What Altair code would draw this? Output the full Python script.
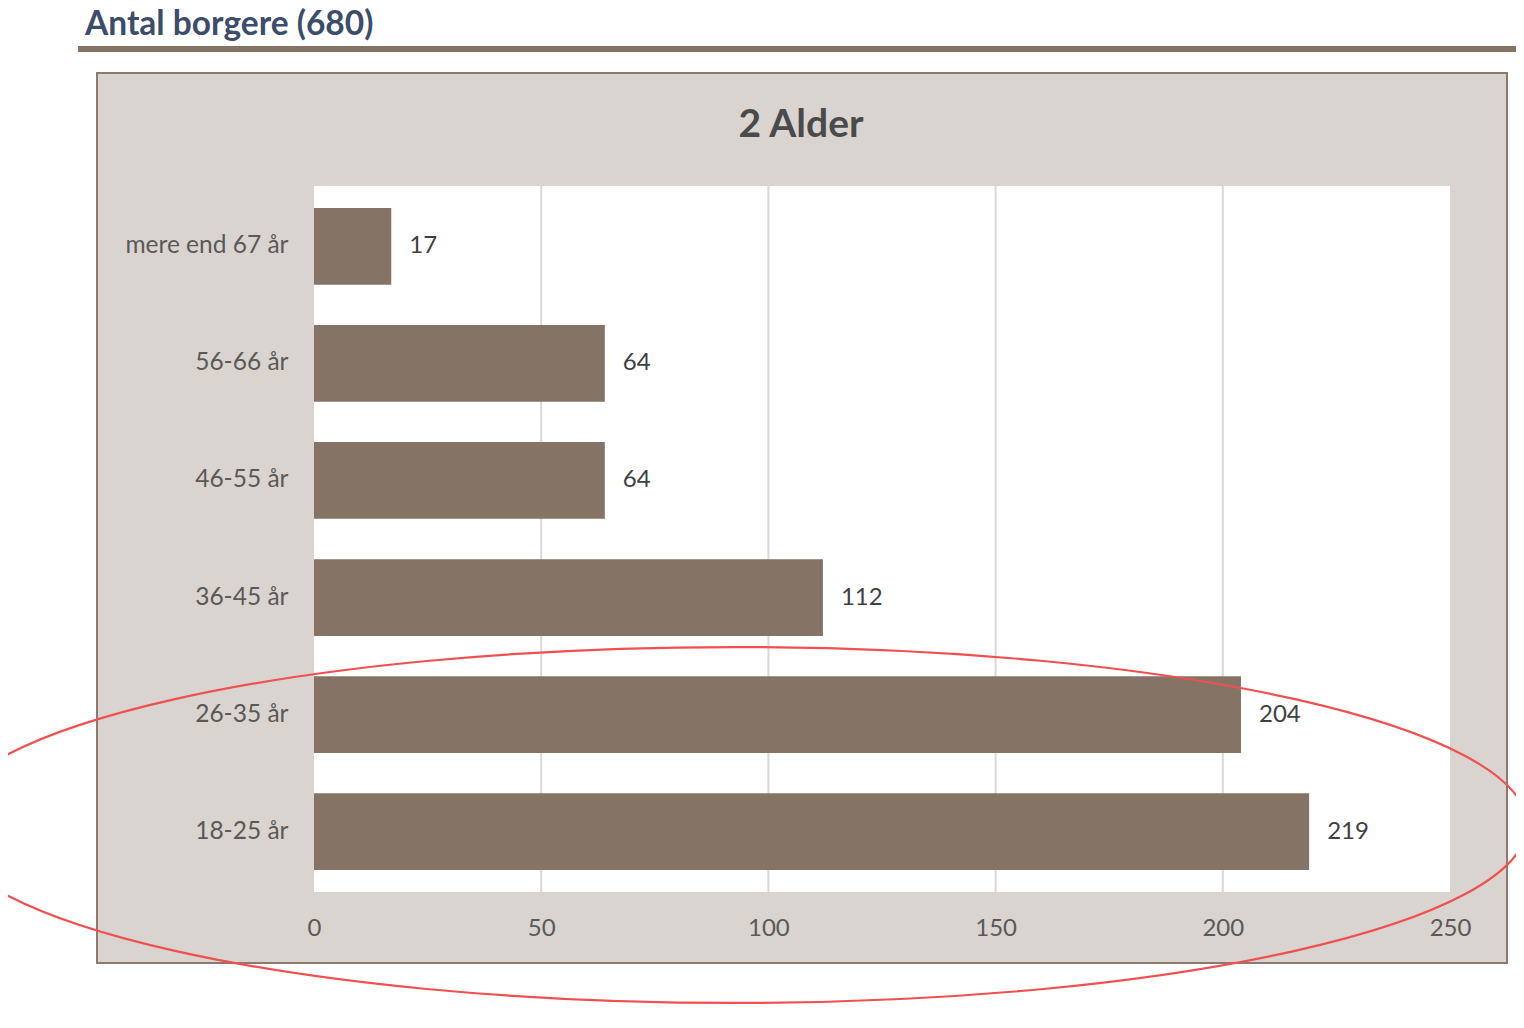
import altair as alt
import pandas as pd

categories = ["mere end 67 år", "56-66 år", "46-55 år", "36-45 år", "26-35 år", "18-25 år"]
values = [17, 64, 64, 112, 204, 219]
grid_values = [50, 100, 150, 200]
x_ticks = [0, 50, 100, 150, 200, 250]

heading = "Antal borgere (680)"
title = "2 Alder"

FONT = "Lato"
W, H = 1136, 706          # plot area
PL, PT = 306, 178         # padding left/top (page margin of 8 included in offsets)
PR, PB = 66, 128

df = pd.DataFrame({"cat": categories, "val": values})
gdf = pd.DataFrame({"g": grid_values})

x_scale = alt.Scale(domain=[0, 250], nice=False, zero=True)
y_scale = alt.Scale(domain=categories, paddingInner=0.344, paddingOuter=0.187)

one = pd.DataFrame({"a": [0]})

# outer chart box (beige with brown border)
box = alt.Chart(one).mark_rect(fill="#d9d4cf", stroke="#8b7b6f", strokeWidth=2).encode(
    x=alt.value(97 - 314), x2=alt.value(1507 - 314),
    y=alt.value(73 - 186), y2=alt.value(963 - 186),
)

# white plot area
plot_bg = alt.Chart(one).mark_rect(fill="white").encode(
    x=alt.value(0), x2=alt.value(W), y=alt.value(0), y2=alt.value(H),
)

# heading underline
underline = alt.Chart(one).mark_rule(color="#857466", strokeWidth=6).encode(
    x=alt.value(78 - 314), x2=alt.value(1524 - 314), y=alt.value(49 - 186),
)

heading_text = alt.Chart(one).mark_text(
    text=heading, font=FONT, fontSize=33.5, fontWeight="bold", color="#3b4d6b",
    align="left", baseline="alphabetic",
).encode(x=alt.value(85 - 314), y=alt.value(35 - 186))

title_text = alt.Chart(one).mark_text(
    text=title, font=FONT, fontSize=39, fontWeight="bold", color="#4a4a4a",
    align="center", baseline="middle",
).encode(x=alt.value(801 - 314), y=alt.value(125 - 186))

grid = alt.Chart(gdf).mark_rule(color="#d9d9d9", strokeWidth=2).encode(
    x=alt.X("g:Q", scale=x_scale),
    y=alt.value(0), y2=alt.value(H),
)

bars = alt.Chart(df).mark_bar(color="#857466").encode(
    x=alt.X("val:Q", scale=x_scale,
            axis=alt.Axis(values=x_ticks, grid=False, ticks=False, domain=False,
                          labelFont=FONT, labelFontSize=24, labelColor="#595959",
                          labelPadding=24, labelFlush=False, title=None, zindex=1)),
    y=alt.Y("cat:N", scale=y_scale, sort=categories,
            axis=alt.Axis(grid=False, ticks=False, domain=False,
                          labelFont=FONT, labelFontSize=24.5, labelColor="#595959",
                          labelPadding=26, title=None, zindex=1)),
)

labels = alt.Chart(df).mark_text(
    align="left", baseline="middle", dx=18, font=FONT, fontSize=24, color="#404040",
).encode(
    x=alt.X("val:Q", scale=x_scale),
    y=alt.Y("cat:N", scale=y_scale, sort=categories),
    text="val:Q",
)

# red hand-drawn style ellipse annotation
rx, ry = 792, 178
ellipse_path = f"M -1 0 A 1 {ry/rx:.4f} 0 1 1 1 0 A 1 {ry/rx:.4f} 0 1 1 -1 0 Z"
ellipse = alt.Chart(one).mark_point(
    shape=ellipse_path, filled=False, stroke="#f05050", strokeWidth=2.2, opacity=1,
    size=(2 * rx) ** 2,
).encode(x=alt.value(735 - 314), y=alt.value(825 - 186))

chart = alt.layer(
    box, plot_bg, underline, heading_text, title_text, grid, bars, labels, ellipse
).properties(
    width=W, height=H,
    autosize=alt.AutoSizeParams(type="none"),
    padding={"left": PL, "top": PT, "right": PR, "bottom": PB},
    background="white",
).configure_view(stroke=None, fill=None)

chart.save("out.html", embed_options={"renderer": "svg", "actions": False})
